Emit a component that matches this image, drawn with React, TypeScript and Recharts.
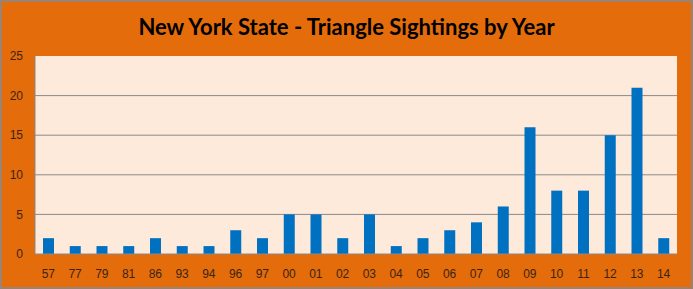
import { BarChart, Bar, XAxis, YAxis, CartesianGrid } from 'recharts';

// sightings per year (two-digit year labels)
const years = ['57', '77', '79', '81', '86', '93', '94', '96', '97', '00', '01', '02', '03', '04', '05', '06', '07', '08', '09', '10', '11', '12', '13', '14'];
const sightings = [2, 1, 1, 1, 2, 1, 1, 3, 2, 5, 5, 2, 5, 1, 2, 3, 4, 6, 16, 8, 8, 15, 21, 2];
const yTicks = [0, 5, 10, 15, 20, 25];

const ORANGE = '#E46C0A';
const PLOT_BG = '#FDEADA';
const BAR_BLUE = '#0070C0';
const TEXT = '#3b2412';

const data = years.map((y, i) => ({ year: y, count: sightings[i] }));

export default function App() {
  return (
    <div
      style={{
        position: 'fixed',
        left: 0,
        top: 0,
        width: 693,
        height: 289,
        boxSizing: 'border-box',
        background: ORANGE,
        border: '2px solid #9c8270',
      }}
    >
      <div
        style={{
          position: 'absolute',
          top: 12,
          left: 0,
          width: 689,
          textAlign: 'center',
          fontFamily: 'Lato, sans-serif',
          fontWeight: 700,
          fontSize: 22,
          color: '#000',
          lineHeight: '26px',
        }}
      >
        New York State - Triangle Sightings by Year
      </div>
      <div style={{ position: 'absolute', left: -2, top: -2 }}>
        <BarChart
          width={693}
          height={289}
          data={data}
          margin={{ top: 56, right: 16, bottom: 10, left: 8 }}
          barCategoryGap="30%"
        >
          <CartesianGrid
            vertical={false}
            horizontalValues={[5, 10, 15, 20]}
            stroke="#8a8a8a"
            fill={PLOT_BG}
            fillOpacity={1}
          />
          <XAxis
            dataKey="year"
            height={25}
            tickLine={false}
            tickSize={6}
            tickMargin={9}
            axisLine={{ stroke: '#8a8a8a' }}
            interval={0}
            tick={{ fontSize: 12, fill: TEXT, fontFamily: 'Liberation Sans, sans-serif' }}
          />
          <YAxis
            width={27}
            domain={[0, 25]}
            ticks={yTicks}
            tickLine={false}
            tickSize={6}
            tickMargin={6}
            axisLine={{ stroke: '#8a8a8a' }}
            tick={{ fontSize: 12, fill: TEXT, fontFamily: 'Liberation Sans, sans-serif' }}
          />
          <Bar dataKey="count" fill={BAR_BLUE} barSize={11} isAnimationActive={false} />
        </BarChart>
      </div>
    </div>
  );
}
